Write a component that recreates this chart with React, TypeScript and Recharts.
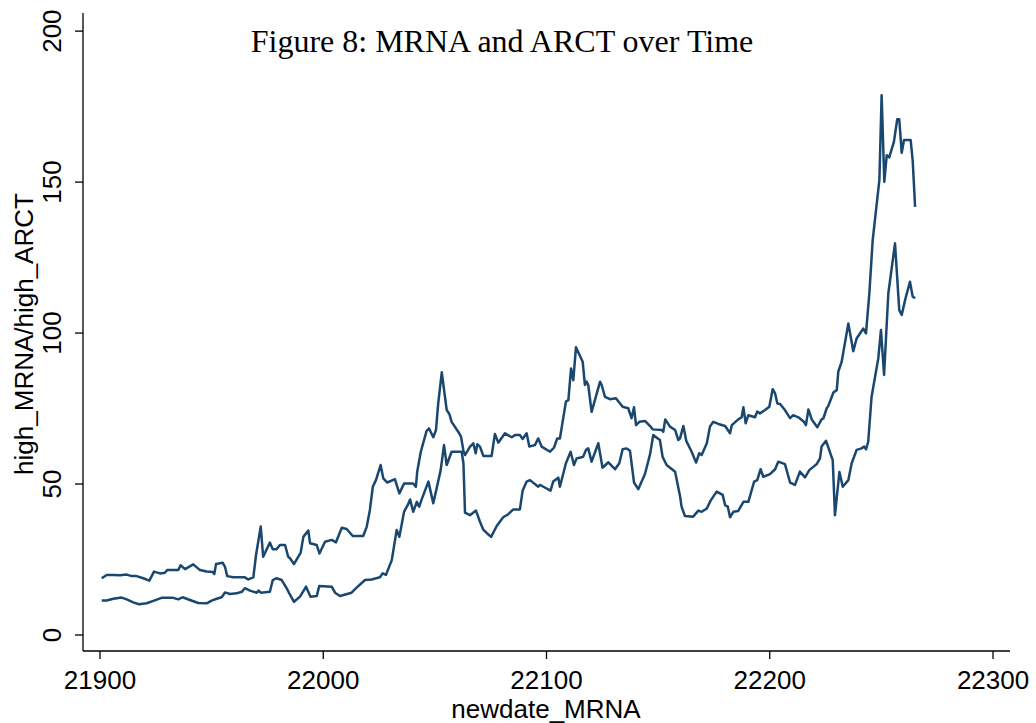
import React from 'react';
import { LineChart, Line, XAxis, YAxis, Customized } from 'recharts';

const mrnaDates = [
  21900.8, 21903.0, 21906.0, 21909.0, 21912.0, 21914.2, 21916.4, 21919.4, 21922.1, 21924.2,
  21926.9, 21929.1, 21930.1, 21935.1, 21936.1, 21938.1, 21941.8, 21944.8, 21947.8, 21950.5,
  21951.2, 21952.0, 21955.0, 21956.0, 21957.0, 21959.7, 21964.9, 21966.4, 21968.7, 21969.9,
  21972.0, 21973.1, 21976.1, 21977.4, 21979.1, 21980.6, 21982.9, 21984.3, 21985.1, 21986.9,
  21989.9, 21991.1, 21993.3, 21994.1, 21997.1, 21998.3, 22000.8, 22003.8, 22005.7, 22008.3,
  22010.5, 22013.2, 22017.9, 22019.5, 22020.9, 22022.2, 22023.6, 22025.7, 22026.9, 22028.7,
  22032.1, 22034.1, 22036.2, 22040.3, 22041.5, 22042.1, 22043.7, 22046.3, 22047.4, 22049.3,
  22050.5, 22051.5, 22053.1, 22055.3, 22056.5, 22057.5, 22060.9, 22061.7, 22062.8, 22063.5,
  22065.7, 22067.2, 22068.3, 22069.0, 22070.2, 22071.7, 22075.4, 22076.9, 22078.4, 22081.4,
  22084.4, 22085.9, 22088.1, 22089.3, 22091.1, 22092.3, 22094.8, 22096.3, 22097.8, 22101.6,
  22103.4, 22104.8, 22106.0, 22108.7, 22109.8, 22111.0, 22112.0, 22113.2, 22116.2, 22117.2,
  22118.0, 22118.7, 22120.2, 22124.0, 22124.7, 22126.2, 22128.4, 22131.1, 22134.1, 22136.6,
  22138.1, 22139.2, 22140.1, 22141.6, 22144.1, 22146.4, 22147.6, 22151.6, 22152.3, 22153.2,
  22155.3, 22157.6, 22159.0, 22159.8, 22161.3, 22162.6, 22165.0, 22167.0, 22168.4, 22169.5,
  22171.8, 22173.2, 22174.7, 22177.0, 22180.0, 22182.2, 22183.0, 22185.9, 22187.4, 22188.2,
  22189.2, 22190.4, 22193.4, 22194.4, 22195.6, 22197.9, 22199.8, 22201.3, 22202.4, 22203.4,
  22204.6, 22206.8, 22209.1, 22210.5, 22212.8, 22215.3, 22216.2, 22217.3, 22218.8, 22221.3,
  22223.2, 22224.0, 22225.5, 22226.2, 22228.5, 22230.0, 22230.7, 22232.2, 22235.2, 22237.4,
  22238.9, 22241.9, 22243.1, 22244.6, 22246.1, 22247.6, 22249.1, 22250.1, 22251.3, 22252.4,
  22253.5, 22255.6, 22257.1, 22258.0, 22259.1, 22260.1, 22263.1, 22264.0, 22265.1,
];

const mrnaHigh = [
  18.8, 19.9, 19.9, 19.8, 20.0, 19.5, 19.5, 18.8, 18.0, 21.0,
  20.4, 20.6, 21.5, 21.5, 23.1, 21.8, 23.4, 21.5, 21.0, 20.9,
  20.2, 23.5, 23.9, 22.6, 19.5, 19.1, 19.1, 18.4, 19.1, 26.5,
  35.9, 25.9, 30.6, 28.4, 28.4, 29.8, 29.8, 25.9, 25.4, 23.5,
  27.3, 32.5, 34.6, 30.4, 29.8, 27.0, 30.9, 31.5, 30.7, 35.5,
  35.1, 32.8, 32.8, 35.9, 41.4, 49.1, 51.3, 56.3, 51.9, 50.5,
  51.6, 46.9, 50.2, 50.2, 49.1, 54.1, 60.7, 67.6, 68.4, 65.5,
  67.9, 76.7, 87.0, 74.5, 73.2, 70.6, 66.8, 65.7, 61.0, 59.6,
  62.3, 63.5, 60.2, 63.2, 62.4, 59.3, 59.3, 66.6, 63.7, 66.8,
  65.5, 66.2, 66.2, 64.9, 66.8, 62.4, 62.9, 65.1, 62.4, 60.7,
  62.1, 65.1, 65.1, 77.3, 77.8, 88.3, 84.4, 95.3, 90.5, 82.8,
  83.9, 82.8, 73.9, 83.9, 82.8, 78.9, 78.1, 78.4, 75.6, 75.1,
  71.8, 75.4, 69.5, 70.6, 70.9, 69.2, 68.1, 67.9, 67.3, 71.4,
  69.0, 67.9, 64.6, 65.1, 69.2, 64.3, 60.7, 57.1, 60.2, 59.6,
  63.5, 69.0, 70.6, 69.9, 69.2, 66.8, 69.5, 71.4, 72.1, 75.4,
  70.1, 72.8, 72.1, 74.0, 73.4, 74.5, 75.6, 81.4, 80.0, 76.7,
  76.5, 74.5, 71.8, 72.8, 72.1, 70.6, 69.5, 74.7, 71.4, 68.8,
  71.4, 71.7, 75.1, 75.8, 80.3, 81.1, 87.2, 90.5, 103.2, 94.0,
  98.2, 101.5, 99.9, 113.1, 130.8, 140.7, 150.7, 178.8, 150.1, 158.9,
  158.2, 163.3, 170.8, 170.8, 159.7, 163.9, 163.9, 157.3, 141.8,
];

const arctDates = [
  21900.8, 21903.0, 21906.0, 21909.7, 21912.0, 21914.9, 21917.5, 21920.9, 21923.9, 21927.6,
  21932.8, 21935.1, 21937.0, 21940.3, 21944.0, 21947.8, 21950.0, 21952.3, 21954.5, 21956.0,
  21958.2, 21961.2, 21963.5, 21964.9, 21967.2, 21970.2, 21971.1, 21972.0, 21976.1, 21977.4,
  21979.1, 21981.4, 21983.6, 21984.8, 21986.9, 21989.6, 21992.3, 21994.3, 21997.1, 21998.2,
  22003.8, 22005.3, 22007.5, 22012.7, 22014.7, 22018.7, 22021.7, 22025.4, 22026.6, 22028.1,
  22030.7, 22032.9, 22034.1, 22036.2, 22038.1, 22038.9, 22040.3, 22041.9, 22043.0, 22044.1,
  22047.1, 22049.3, 22052.6, 22054.1, 22055.3, 22057.5, 22060.5, 22062.0, 22062.8, 22063.5,
  22065.7, 22068.4, 22070.2, 22071.6, 22073.3, 22075.2, 22077.7, 22080.6, 22082.9, 22085.1,
  22088.1, 22089.3, 22091.1, 22092.6, 22096.3, 22097.1, 22098.6, 22101.8, 22103.0, 22105.3,
  22106.0, 22108.7, 22110.8, 22112.3, 22113.5, 22115.3, 22116.4, 22117.7, 22118.7, 22120.2,
  22123.2, 22125.1, 22127.7, 22130.7, 22132.6, 22134.1, 22135.9, 22137.4, 22139.2, 22141.1,
  22144.1, 22146.4, 22147.8, 22150.8, 22152.0, 22153.8, 22157.6, 22159.8, 22160.5, 22162.0,
  22165.7, 22168.0, 22169.5, 22171.8, 22173.5, 22176.2, 22178.9, 22180.0, 22181.2, 22182.2,
  22183.7, 22185.9, 22188.2, 22190.4, 22193.0, 22194.4, 22195.9, 22197.1, 22200.1, 22202.4,
  22203.8, 22206.8, 22209.1, 22211.3, 22213.5, 22215.8, 22217.7, 22221.0, 22222.5, 22223.2,
  22225.2, 22228.2, 22229.2, 22231.2, 22232.7, 22235.2, 22236.7, 22238.9, 22241.1, 22242.3,
  22243.1, 22244.1, 22245.6, 22248.6, 22249.8, 22251.2, 22253.1, 22256.1, 22258.0, 22259.1,
  22260.6, 22262.8, 22264.0, 22265.1,
];

const arctHigh = [
  11.4, 11.4, 12.0, 12.4, 11.8, 10.8, 10.2, 10.5, 11.3, 12.3,
  12.3, 11.8, 12.5, 11.6, 10.6, 10.5, 11.4, 12.0, 12.5, 14.1,
  13.6, 13.8, 14.3, 15.5, 14.7, 14.0, 14.7, 14.0, 14.3, 18.2,
  18.8, 18.2, 15.5, 13.8, 11.0, 12.7, 16.0, 12.7, 12.9, 16.2,
  16.0, 14.0, 12.9, 14.0, 15.5, 18.2, 18.4, 19.1, 20.4, 19.9,
  24.8, 34.8, 32.5, 40.8, 43.4, 44.9, 40.8, 44.1, 42.5, 44.9,
  50.8, 43.6, 54.6, 62.9, 56.3, 60.7, 60.7, 60.7, 56.9, 40.5,
  39.7, 41.2, 37.5, 35.0, 33.7, 32.5, 36.1, 39.0, 40.0, 41.6,
  41.6, 47.8, 50.8, 51.3, 49.1, 49.7, 49.1, 47.8, 50.8, 52.1,
  49.1, 56.9, 60.7, 56.3, 58.5, 58.8, 59.0, 61.3, 61.8, 57.4,
  63.5, 55.4, 57.2, 54.9, 56.9, 61.5, 61.8, 61.0, 50.5, 48.3,
  53.3, 59.9, 66.2, 64.6, 59.0, 56.3, 54.1, 46.0, 42.5, 39.4,
  39.2, 41.2, 40.8, 41.9, 44.5, 47.5, 46.4, 43.0, 42.5, 39.0,
  40.8, 41.1, 44.1, 44.1, 50.8, 51.3, 54.9, 52.4, 53.3, 54.9,
  57.4, 56.6, 50.5, 49.7, 54.1, 52.2, 54.6, 56.6, 58.5, 62.4,
  64.3, 57.9, 39.7, 54.0, 49.1, 51.3, 56.9, 61.3, 61.8, 62.4,
  61.5, 64.0, 78.9, 91.6, 101.0, 86.1, 113.1, 129.7, 107.6, 106.0,
  110.9, 117.0, 112.1, 111.5,
];

const xTicks = [21900, 22000, 22100, 22200, 22300];
const yTicks = [0, 50, 100, 150, 200];

const titleText = 'Figure 8: MRNA and ARCT over Time';
const xTitle = 'newdate_MRNA';
const yTitle = 'high_MRNA/high_ARCT';

const mrnaData = mrnaDates.map((d, i) => ({ d, v: mrnaHigh[i] }));
const arctData = arctDates.map((d, i) => ({ d, v: arctHigh[i] }));

const LINE_COLOR = '#1a476f';
const SANS = '"Liberation Sans", Arial, Helvetica, sans-serif';
const SERIF = '"Liberation Serif", "Times New Roman", Times, serif';

const XTick = (props: any) => {
  const { x, payload } = props;
  return (
    <text x={x} y={689} textAnchor="middle" fontFamily={SANS} fontSize={26} fill="#000">
      {payload.value}
    </text>
  );
};

const YTick = (props: any) => {
  const { y, payload } = props;
  const bx = 61;
  return (
    <text
      x={bx}
      y={y}
      transform={`rotate(-90, ${bx}, ${y})`}
      textAnchor="middle"
      fontFamily={SANS}
      fontSize={26}
      fill="#000"
    >
      {payload.value}
    </text>
  );
};

const Overlay = () => (
  <g>
    <text x={502} y={52} textAnchor="middle" fontFamily={SERIF} fontSize={32} fill="#000">
      {titleText}
    </text>
    <text x={546} y={718} textAnchor="middle" fontFamily={SANS} fontSize={26} fill="#000">
      {xTitle}
    </text>
    <text
      x={33}
      y={334}
      transform="rotate(-90, 33, 334)"
      textAnchor="middle"
      fontFamily={SANS}
      fontSize={26}
      fill="#000"
    >
      {yTitle}
    </text>
  </g>
);

export default function App() {
  return (
    <div style={{ position: 'absolute', left: 0, top: 0, width: 1036, height: 723, background: '#fff' }}>
      <LineChart width={1036} height={723} margin={{ top: 13, right: 26, left: 0, bottom: 0 }}>
        <XAxis
          type="number"
          dataKey="d"
          domain={[21892.4, 22307.6]}
          ticks={xTicks}
          allowDataOverflow
          height={72}
          tickSize={8}
          axisLine={{ stroke: '#000', strokeWidth: 1.3 }}
          tickLine={{ stroke: '#000', strokeWidth: 1.3 }}
          tick={<XTick />}
          interval={0}
        />
        <YAxis
          type="number"
          domain={[-5.3, 206]}
          ticks={yTicks}
          allowDataOverflow
          width={83}
          tickSize={8}
          axisLine={{ stroke: '#000', strokeWidth: 1.3 }}
          tickLine={{ stroke: '#000', strokeWidth: 1.3 }}
          tick={<YTick />}
          interval={0}
        />
        <Line
          data={mrnaData}
          dataKey="v"
          type="linear"
          stroke={LINE_COLOR}
          strokeWidth={2.5}
          dot={false}
          activeDot={false}
          isAnimationActive={false}
          strokeLinejoin="round"
        />
        <Line
          data={arctData}
          dataKey="v"
          type="linear"
          stroke={LINE_COLOR}
          strokeWidth={2.5}
          dot={false}
          activeDot={false}
          isAnimationActive={false}
          strokeLinejoin="round"
        />
        <Customized component={Overlay} />
      </LineChart>
    </div>
  );
}
